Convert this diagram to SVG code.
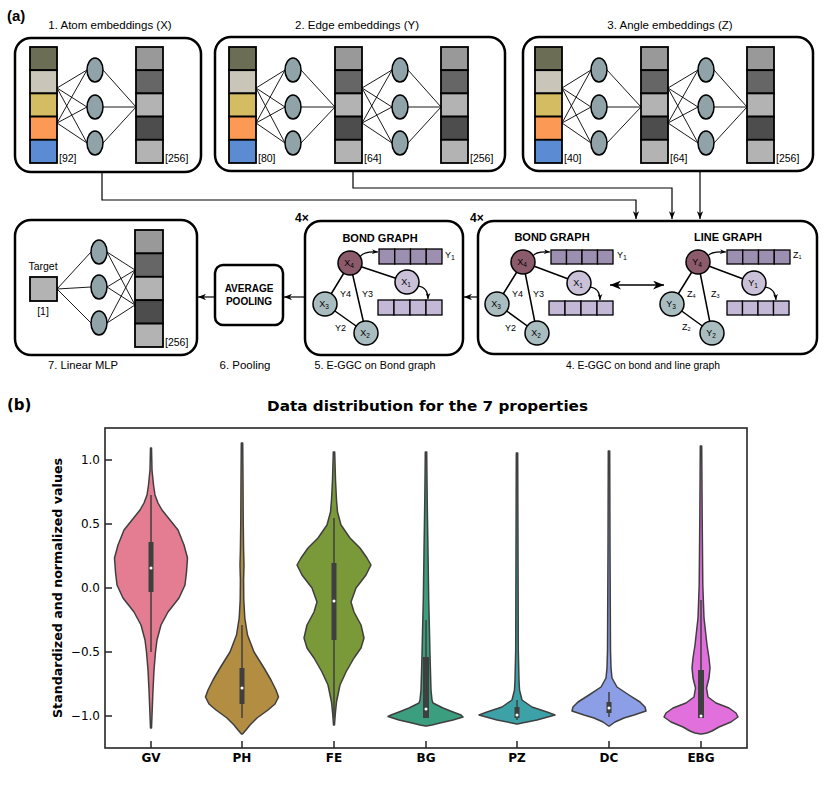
<svg xmlns="http://www.w3.org/2000/svg" width="831" height="795" viewBox="0 0 831 795">
<defs>
<style>
.a{font-family:"Liberation Sans",Arial,sans-serif;fill:#000}
.d{font-family:"DejaVu Sans",sans-serif;fill:#000}
.panel{fill:#fff;stroke:#000;stroke-width:2.5}
.cell{stroke:#000;stroke-width:1.8}
.ell{fill:#8fa3a8;stroke:#000;stroke-width:1.5}
.nn{stroke:#000;stroke-width:0.9;fill:none}
.c1{fill:#6b6e55}.c2{fill:#c9c5b9}.c3{fill:#d4bc62}.c4{fill:#fc9a55}.c5{fill:#5b8bd2}
.g1{fill:#999}.g2{fill:#666}.g3{fill:#b3b3b3}.g4{fill:#4d4d4d}
.dim{font-size:10.5px}
.ttl{font-size:11.5px}
.cap{font-size:11px}
.node{stroke:#000;stroke-width:1.5}
.n4{fill:#8b5a6b}.n1{fill:#cac0d8}.n3{fill:#a9bcbf}
.nl{font-size:9px;text-anchor:middle}
.el{font-size:9px}
.edge{stroke:#000;stroke-width:1.5}
.bt{fill:#9d8fb0;stroke:#000;stroke-width:1.3}
.bb{fill:#c3b8d6;stroke:#000;stroke-width:1.3}
.conn{stroke:#000;stroke-width:1.2;fill:none}
.vio{stroke:#3f3f3f;stroke-width:1.5;stroke-linejoin:round}
.box{fill:#3f3f3f}
.wh{stroke:#3f3f3f;stroke-width:1.5}
.med{fill:#fff}
.tick{stroke:#262626;stroke-width:1.5}
.tl{font-size:12px;text-anchor:end}
.xl{font-size:12px;font-weight:bold;text-anchor:middle}
</style>
<marker id="ah" viewBox="0 0 10 8" refX="10" refY="4" markerWidth="8" markerHeight="6.5" markerUnits="userSpaceOnUse" orient="auto-start-reverse">
<path d="M0,0 L10,4 L0,8 L3,4 Z" fill="#000"/>
</marker>
<marker id="ah2" viewBox="0 0 10 8" refX="10" refY="4" markerWidth="11" markerHeight="9" markerUnits="userSpaceOnUse" orient="auto-start-reverse">
<path d="M0,0 L10,4 L0,8 L3,4 Z" fill="#000"/>
</marker>
<marker id="ahs" viewBox="0 0 10 8" refX="10" refY="4" markerWidth="6" markerHeight="5" markerUnits="userSpaceOnUse" orient="auto">
<path d="M0,0 L10,4 L0,8 L3,4 Z" fill="#000"/>
</marker>
</defs>
<rect width="831" height="795" fill="#fff"/>

<text class="a" x="7" y="21" font-size="15" font-weight="bold">(a)</text>

<!-- Panel 1 -->
<g id="atom-embeddings">
<text class="a ttl" x="110" y="29" text-anchor="middle">1. Atom embeddings (X)</text>
<rect class="panel" x="15" y="38" width="186" height="134" rx="16"/>
<path class="nn" d="M57 88L87 70M57 88L87 107M57 88L87 143M57 123L87 70M57 123L87 107M57 123L87 143M103 70L136 107M103 107L136 107M103 143L136 107"/>
<rect class="cell c1" x="30" y="47" width="27" height="23.2"/>
<rect class="cell c2" x="30" y="70.2" width="27" height="23.2"/>
<rect class="cell c3" x="30" y="93.4" width="27" height="23.2"/>
<rect class="cell c4" x="30" y="116.6" width="27" height="23.2"/>
<rect class="cell c5" x="30" y="139.8" width="27" height="23.2"/>
<ellipse class="ell" cx="95" cy="70" rx="8" ry="12"/>
<ellipse class="ell" cx="95" cy="107" rx="8" ry="12"/>
<ellipse class="ell" cx="95" cy="143" rx="8" ry="12"/>
<rect class="cell g1" x="136" y="47" width="27" height="23.2"/>
<rect class="cell g2" x="136" y="70.2" width="27" height="23.2"/>
<rect class="cell g3" x="136" y="93.4" width="27" height="23.2"/>
<rect class="cell g4" x="136" y="116.6" width="27" height="23.2"/>
<rect class="cell g3" x="136" y="139.8" width="27" height="23.2"/>
<text class="a dim" x="59" y="162">[92]</text>
<text class="a dim" x="165" y="162">[256]</text>
</g>

<!-- Panel 2 -->
<g id="edge-embeddings">
<text class="a ttl" x="357" y="29" text-anchor="middle">2. Edge embeddings (Y)</text>
<rect class="panel" x="215" y="37" width="290" height="134" rx="16"/>
<path class="nn" d="M256 88L285 70M256 88L285 107M256 88L285 143M256 123L285 70M256 123L285 107M256 123L285 143M301 70L335 107M301 107L335 107M301 143L335 107M362 88L392 70M362 88L392 107M362 88L392 143M362 123L392 70M362 123L392 107M362 123L392 143M408 70L441 107M408 107L441 107M408 143L441 107"/>
<rect class="cell c1" x="229" y="47" width="27" height="23.2"/>
<rect class="cell c2" x="229" y="70.2" width="27" height="23.2"/>
<rect class="cell c3" x="229" y="93.4" width="27" height="23.2"/>
<rect class="cell c4" x="229" y="116.6" width="27" height="23.2"/>
<rect class="cell c5" x="229" y="139.8" width="27" height="23.2"/>
<ellipse class="ell" cx="293" cy="70" rx="8" ry="12"/>
<ellipse class="ell" cx="293" cy="107" rx="8" ry="12"/>
<ellipse class="ell" cx="293" cy="143" rx="8" ry="12"/>
<rect class="cell g1" x="335" y="47" width="27" height="23.2"/>
<rect class="cell g2" x="335" y="70.2" width="27" height="23.2"/>
<rect class="cell g3" x="335" y="93.4" width="27" height="23.2"/>
<rect class="cell g4" x="335" y="116.6" width="27" height="23.2"/>
<rect class="cell g3" x="335" y="139.8" width="27" height="23.2"/>
<ellipse class="ell" cx="400" cy="70" rx="8" ry="12"/>
<ellipse class="ell" cx="400" cy="107" rx="8" ry="12"/>
<ellipse class="ell" cx="400" cy="143" rx="8" ry="12"/>
<rect class="cell g1" x="441" y="47" width="27" height="23.2"/>
<rect class="cell g2" x="441" y="70.2" width="27" height="23.2"/>
<rect class="cell g3" x="441" y="93.4" width="27" height="23.2"/>
<rect class="cell g4" x="441" y="116.6" width="27" height="23.2"/>
<rect class="cell g3" x="441" y="139.8" width="27" height="23.2"/>
<text class="a dim" x="258" y="162">[80]</text>
<text class="a dim" x="364" y="162">[64]</text>
<text class="a dim" x="470" y="162">[256]</text>
</g>

<!-- Panel 3 -->
<g id="angle-embeddings">
<text class="a ttl" x="670" y="29" text-anchor="middle">3. Angle embeddings (Z)</text>
<rect class="panel" x="523" y="37" width="290" height="134" rx="16"/>
<path class="nn" d="M562 88L591 70M562 88L591 107M562 88L591 143M562 123L591 70M562 123L591 107M562 123L591 143M607 70L641 107M607 107L641 107M607 143L641 107M668 88L698 70M668 88L698 107M668 88L698 143M668 123L698 70M668 123L698 107M668 123L698 143M714 70L747 107M714 107L747 107M714 143L747 107"/>
<rect class="cell c1" x="535" y="47" width="27" height="23.2"/>
<rect class="cell c2" x="535" y="70.2" width="27" height="23.2"/>
<rect class="cell c3" x="535" y="93.4" width="27" height="23.2"/>
<rect class="cell c4" x="535" y="116.6" width="27" height="23.2"/>
<rect class="cell c5" x="535" y="139.8" width="27" height="23.2"/>
<ellipse class="ell" cx="599" cy="70" rx="8" ry="12"/>
<ellipse class="ell" cx="599" cy="107" rx="8" ry="12"/>
<ellipse class="ell" cx="599" cy="143" rx="8" ry="12"/>
<rect class="cell g1" x="641" y="47" width="27" height="23.2"/>
<rect class="cell g2" x="641" y="70.2" width="27" height="23.2"/>
<rect class="cell g3" x="641" y="93.4" width="27" height="23.2"/>
<rect class="cell g4" x="641" y="116.6" width="27" height="23.2"/>
<rect class="cell g3" x="641" y="139.8" width="27" height="23.2"/>
<ellipse class="ell" cx="706" cy="70" rx="8" ry="12"/>
<ellipse class="ell" cx="706" cy="107" rx="8" ry="12"/>
<ellipse class="ell" cx="706" cy="143" rx="8" ry="12"/>
<rect class="cell g1" x="747" y="47" width="27" height="23.2"/>
<rect class="cell g2" x="747" y="70.2" width="27" height="23.2"/>
<rect class="cell g3" x="747" y="93.4" width="27" height="23.2"/>
<rect class="cell g4" x="747" y="116.6" width="27" height="23.2"/>
<rect class="cell g3" x="747" y="139.8" width="27" height="23.2"/>
<text class="a dim" x="564" y="162">[40]</text>
<text class="a dim" x="670" y="162">[64]</text>
<text class="a dim" x="776" y="162">[256]</text>
</g>

<!-- Panel 4 -->
<g id="egcc-bond-line">
<text class="a" x="470" y="222" font-size="12" font-weight="bold">4×</text>
<rect class="panel" x="478" y="221" width="339" height="133" rx="16"/>
<text class="a" x="552" y="241" font-size="11" font-weight="bold" text-anchor="middle">BOND GRAPH</text>
<text class="a" x="728" y="241" font-size="11" font-weight="bold" text-anchor="middle">LINE GRAPH</text>
<path class="edge" d="M523 262L579 283M523 262L497 304M523 262L537 333M497 304L537 333"/>
<g class="bt"><rect x="551" y="250" width="15.5" height="14"/><rect x="566.5" y="250" width="15.5" height="14"/><rect x="582" y="250" width="15.5" height="14"/><rect x="597.5" y="250" width="15.5" height="14"/></g>
<g class="bb"><rect x="549" y="301" width="16" height="14"/><rect x="565" y="301" width="16" height="14"/><rect x="581" y="301" width="16" height="14"/><rect x="597" y="301" width="16" height="14"/></g>
<path class="conn" d="M533 256Q536 251 550 252" marker-end="url(#ahs)"/>
<path class="conn" d="M590 287Q600 288 600 300" marker-end="url(#ahs)"/>
<circle class="node n4" cx="523" cy="262" r="12"/><text class="a nl" x="522" y="265">X<tspan font-size="6.5" dy="2">4</tspan></text>
<circle class="node n1" cx="579" cy="283" r="12"/><text class="a nl" x="578" y="286">X<tspan font-size="6.5" dy="2">1</tspan></text>
<circle class="node n3" cx="497" cy="304" r="12"/><text class="a nl" x="496" y="307">X<tspan font-size="6.5" dy="2">3</tspan></text>
<circle class="node n3" cx="537" cy="333" r="12"/><text class="a nl" x="536" y="336">X<tspan font-size="6.5" dy="2">2</tspan></text>
<text class="a el" x="512" y="297">Y4</text>
<text class="a el" x="533" y="297">Y3</text>
<text class="a el" x="505" y="331">Y2</text>
<text class="a el" x="617" y="258">Y<tspan font-size="7" dy="1.5">1</tspan></text>
<path d="M610 285L664 285" stroke="#000" stroke-width="1.6" marker-start="url(#ah2)" marker-end="url(#ah2)"/>
<path class="edge" d="M698 262L754 283M698 262L672 304M698 262L712 333M672 304L712 333"/>
<g class="bt"><rect x="727" y="250" width="15.75" height="14"/><rect x="742.75" y="250" width="15.75" height="14"/><rect x="758.5" y="250" width="15.75" height="14"/><rect x="774.25" y="250" width="15.75" height="14"/></g>
<g class="bb"><rect x="727" y="301" width="15.5" height="14"/><rect x="742.5" y="301" width="15.5" height="14"/><rect x="758" y="301" width="15.5" height="14"/><rect x="773.5" y="301" width="15.5" height="14"/></g>
<path class="conn" d="M708 256Q711 251 726 252" marker-end="url(#ahs)"/>
<path class="conn" d="M765 287Q775 288 776 300" marker-end="url(#ahs)"/>
<circle class="node n4" cx="698" cy="262" r="12"/><text class="a nl" x="697" y="265">Y<tspan font-size="6.5" dy="2">4</tspan></text>
<circle class="node n1" cx="754" cy="283" r="12"/><text class="a nl" x="753" y="286">Y<tspan font-size="6.5" dy="2">1</tspan></text>
<circle class="node n3" cx="672" cy="304" r="12"/><text class="a nl" x="671" y="307">Y<tspan font-size="6.5" dy="2">3</tspan></text>
<circle class="node n3" cx="712" cy="333" r="12"/><text class="a nl" x="711" y="336">Y<tspan font-size="6.5" dy="2">2</tspan></text>
<text class="a el" x="687" y="297" font-size="8">Z<tspan font-size="5.5" dy="1">4</tspan></text>
<text class="a el" x="711" y="297" font-size="8">Z<tspan font-size="5.5" dy="1">3</tspan></text>
<text class="a el" x="682" y="330" font-size="8">Z<tspan font-size="5.5" dy="1">2</tspan></text>
<text class="a el" x="793" y="258" font-size="8">Z<tspan font-size="5.5" dy="1">1</tspan></text>
<text class="a cap" x="643" y="369" text-anchor="middle" textLength="154" lengthAdjust="spacingAndGlyphs">4. E-GGC on bond and line graph</text>
</g>

<!-- Panel 5 -->
<g id="egcc-bond">
<text class="a" x="295" y="222" font-size="12" font-weight="bold">4×</text>
<rect class="panel" x="305" y="221" width="158" height="134" rx="16"/>
<text class="a" x="380" y="242" font-size="11" font-weight="bold" text-anchor="middle">BOND GRAPH</text>
<path class="edge" d="M350 263L407 282M350 263L325 304M350 263L366 333M325 304L366 333"/>
<g class="bt"><rect x="379" y="249" width="15.75" height="15"/><rect x="394.75" y="249" width="15.75" height="15"/><rect x="410.5" y="249" width="15.75" height="15"/><rect x="426.25" y="249" width="15.75" height="15"/></g>
<g class="bb"><rect x="378" y="300" width="16" height="15"/><rect x="394" y="300" width="16" height="15"/><rect x="410" y="300" width="16" height="15"/><rect x="426" y="300" width="16" height="15"/></g>
<path class="conn" d="M360 257Q363 251 378 252" marker-end="url(#ahs)"/>
<path class="conn" d="M418 286Q428 287 428 299" marker-end="url(#ahs)"/>
<circle class="node n4" cx="350" cy="263" r="12"/><text class="a nl" x="349" y="266">X<tspan font-size="6.5" dy="2">4</tspan></text>
<circle class="node n1" cx="407" cy="282" r="12"/><text class="a nl" x="406" y="285">X<tspan font-size="6.5" dy="2">1</tspan></text>
<circle class="node n3" cx="325" cy="304" r="12"/><text class="a nl" x="324" y="307">X<tspan font-size="6.5" dy="2">3</tspan></text>
<circle class="node n3" cx="366" cy="333" r="12"/><text class="a nl" x="365" y="336">X<tspan font-size="6.5" dy="2">2</tspan></text>
<text class="a el" x="340" y="297">Y4</text>
<text class="a el" x="362" y="297">Y3</text>
<text class="a el" x="335" y="331">Y2</text>
<text class="a el" x="445" y="258">Y<tspan font-size="7" dy="1.5">1</tspan></text>
<text class="a cap" x="375" y="369" text-anchor="middle" textLength="121" lengthAdjust="spacingAndGlyphs">5. E-GGC on Bond graph</text>
</g>

<!-- Pooling -->
<g id="pooling">
<rect class="panel" x="215" y="265" width="68" height="60" rx="8"/>
<text class="a" x="249" y="292" font-size="10" font-weight="bold" text-anchor="middle">AVERAGE</text>
<text class="a" x="249" y="305" font-size="10" font-weight="bold" text-anchor="middle">POOLING</text>
<text class="a cap" x="245" y="369" text-anchor="middle" textLength="51" lengthAdjust="spacingAndGlyphs">6. Pooling</text>
</g>

<!-- Panel 7 -->
<g id="linear-mlp">
<rect class="panel" x="15" y="220" width="182" height="135" rx="16"/>
<path class="nn" d="M57 289L91 252M57 289L91 287M57 289L91 323M107 252L135 270M107 252L135 305M107 287L135 270M107 287L135 305M107 323L135 270M107 323L135 305"/>
<text class="a" x="43" y="270" font-size="10.5" text-anchor="middle">Target</text>
<rect class="cell g3" x="30" y="277" width="27" height="24"/>
<text class="a dim" x="43" y="315" text-anchor="middle">[1]</text>
<ellipse class="ell" cx="99" cy="252" rx="8" ry="12"/>
<ellipse class="ell" cx="99" cy="287" rx="8" ry="12"/>
<ellipse class="ell" cx="99" cy="323" rx="8" ry="12"/>
<rect class="cell g1" x="135" y="230" width="28" height="23.4"/>
<rect class="cell g2" x="135" y="253.4" width="28" height="23.4"/>
<rect class="cell g3" x="135" y="276.8" width="28" height="23.4"/>
<rect class="cell g4" x="135" y="300.2" width="28" height="23.4"/>
<rect class="cell g3" x="135" y="323.6" width="28" height="23.4"/>
<text class="a dim" x="165" y="346">[256]</text>
<text class="a cap" x="83" y="369" text-anchor="middle" textLength="70" lengthAdjust="spacingAndGlyphs">7. Linear MLP</text>
</g>

<!-- Connectors -->
<g id="connectors">
<path class="conn" d="M102 172V200H636V219" marker-end="url(#ah)"/>
<path class="conn" d="M353 171V188H672V219" marker-end="url(#ah)"/>
<path class="conn" d="M700 171V219" marker-end="url(#ah)"/>
<path class="conn" d="M478 297H464" marker-end="url(#ah)"/>
<path class="conn" d="M305 297H284" marker-end="url(#ah)"/>
<path class="conn" d="M215 297H198" marker-end="url(#ah)"/>
</g>

<!-- Part b -->
<g id="violin-chart">
<text class="d" x="7" y="410" font-size="15" font-weight="bold">(b)</text>
<text class="d" x="427.5" y="411" font-size="14" font-weight="bold" text-anchor="middle" textLength="321" lengthAdjust="spacingAndGlyphs">Data distribution for the 7 properties</text>
<text class="d" transform="translate(62 588) rotate(-90)" font-size="12" font-weight="bold" text-anchor="middle" textLength="260" lengthAdjust="spacingAndGlyphs">Standardized and normalized values</text>

<path class="vio" fill="#e47d91" d="M151.5,448 152,470 153.5,485 155,495 158,503 162,510 170,520 178,530 184,545 187.5,558 186.5,572 185,585 179,598 168,612 161,625 157,640 155.5,652 154,670 153,690 152.2,710 151.5,728 150.5,728 149.8,710 149,690 148,670 146.5,652 145,640 141,625 134,612 123,598 117,585 115.5,572 114.5,558 118,545 124,530 132,520 140,510 144,503 147,495 148.5,485 150,470 150.5,448Z"/>
<path class="vio" fill="#b38d41" d="M242.7,443 243,480 243.2,520 243.6,550 244,565 243.6,580 243.8,600 244.8,618 247.5,635 254,652 264,668 271,680 276,690 278.5,697 275,704 268,710 257,718 250,725 246,730 242.5,734 241.5,734 238,730 234,725 227,718 216,710 209,704 205.5,697 208,690 213,680 220,668 230,652 236.5,635 239.2,618 240.2,600 240.4,580 240,565 240.4,550 240.8,520 241,480 241.3,443Z"/>
<path class="vio" fill="#7a9a3a" d="M334.7,452 335.5,480 336.5,500 337.5,512 341,525 350,538 360,548 367,558 371,565 366,575 356,588 351,602 354,612 361,625 364,638 361,648 354,658 346,672 340,685 336.5,702 335.2,715 334.5,725 333.5,725 332.8,715 331.5,702 328,685 322,672 314,658 307,648 304,638 307,625 314,612 317,602 312,588 302,575 297,565 301,558 308,548 318,538 327,525 330.5,512 331.5,500 332.5,480 333.3,452Z"/>
<path class="vio" fill="#3a9e7f" d="M426.7,452 427.2,500 428,552 428.7,600 429.2,620 430,655 431,690 432,700 433,703 443,708 453,712 461,715 463,717 453,720 440,723 432,725 426.5,726 425.5,726 420,725 412,723 399,720 388,716.5 391,715 399,712 409,708 419,703 420,700 421,690 422,655 422.8,620 423.3,600 424,552 424.8,500 425.3,452Z"/>
<path class="vio" fill="#3ca2a8" d="M517.7,453 518,550 518.3,650 519,680 519.5,690 522,700 532,707 547,712 555,715 537,720 522,723 517.5,724 516.5,724 512,723 497,720 479,715 487,712 502,707 512,700 514.5,690 515,680 515.7,650 516,550 516.3,453Z"/>
<path class="vio" fill="#8c9ee5" d="M609.7,451 610,550 610.5,650 611,668 612,678 617,687 629,695 640,702 645,707 646,711 634,715 624,718 615,722 609.5,726 608.5,726 603,722 594,718 584,715 572,711 573,707 578,702 589,695 601,687 606,678 607,668 607.5,650 608,550 608.3,451Z"/>
<path class="vio" fill="#e16fdc" d="M701.7,446 702.2,520 702.8,585 704,618 707,645 709,658 710,668 709,678 706.5,688 708,697 716,703 729,708 736,713 738,717 731,722 719,727 712,731 707,733 701.5,734 700.5,734 695,733 690,731 683,727 671,722 664,717 666,713 673,708 686,703 694,697 695.5,688 693,678 692,668 693,658 695,645 698,618 699.2,585 699.8,520 700.3,446Z"/>

<path class="wh" d="M151 495V652M242 625V718M334 518V718M426 620V718M517 700V720M609 692V717M701 600V718"/>
<rect class="box" x="148.5" y="542" width="5" height="50"/>
<rect class="box" x="239.5" y="668" width="5" height="36"/>
<rect class="box" x="331.5" y="563" width="5" height="77"/>
<rect class="box" x="423" y="657" width="6" height="61"/>
<rect class="box" x="514.5" y="707" width="5" height="11"/>
<rect class="box" x="606.5" y="702" width="5" height="11"/>
<rect class="box" x="698" y="670" width="6" height="48"/>
<circle class="med" cx="151" cy="568" r="1.5"/>
<circle class="med" cx="242" cy="688" r="1.5"/>
<circle class="med" cx="334" cy="601" r="1.5"/>
<circle class="med" cx="426" cy="709" r="1.5"/>
<circle class="med" cx="517" cy="715" r="1.5"/>
<circle class="med" cx="609" cy="708" r="1.5"/>
<circle class="med" cx="701" cy="716" r="1.5"/>

<rect x="105" y="428" width="642" height="320" fill="none" stroke="#262626" stroke-width="1.6"/>
<path class="tick" d="M105 460H112M105 524H112M105 588H112M105 652H112M105 716H112M151 748V741M242 748V741M334 748V741M426 748V741M517 748V741M609 748V741M701 748V741"/>
<text class="d tl" x="100" y="464">1.0</text>
<text class="d tl" x="100" y="528">0.5</text>
<text class="d tl" x="100" y="592">0.0</text>
<text class="d tl" x="100" y="656">−0.5</text>
<text class="d tl" x="100" y="720">−1.0</text>
<text class="d xl" x="151" y="762">GV</text>
<text class="d xl" x="242" y="762">PH</text>
<text class="d xl" x="334" y="762">FE</text>
<text class="d xl" x="426" y="762">BG</text>
<text class="d xl" x="517" y="762">PZ</text>
<text class="d xl" x="609" y="762">DC</text>
<text class="d xl" x="701" y="762">EBG</text>
</g>
</svg>
